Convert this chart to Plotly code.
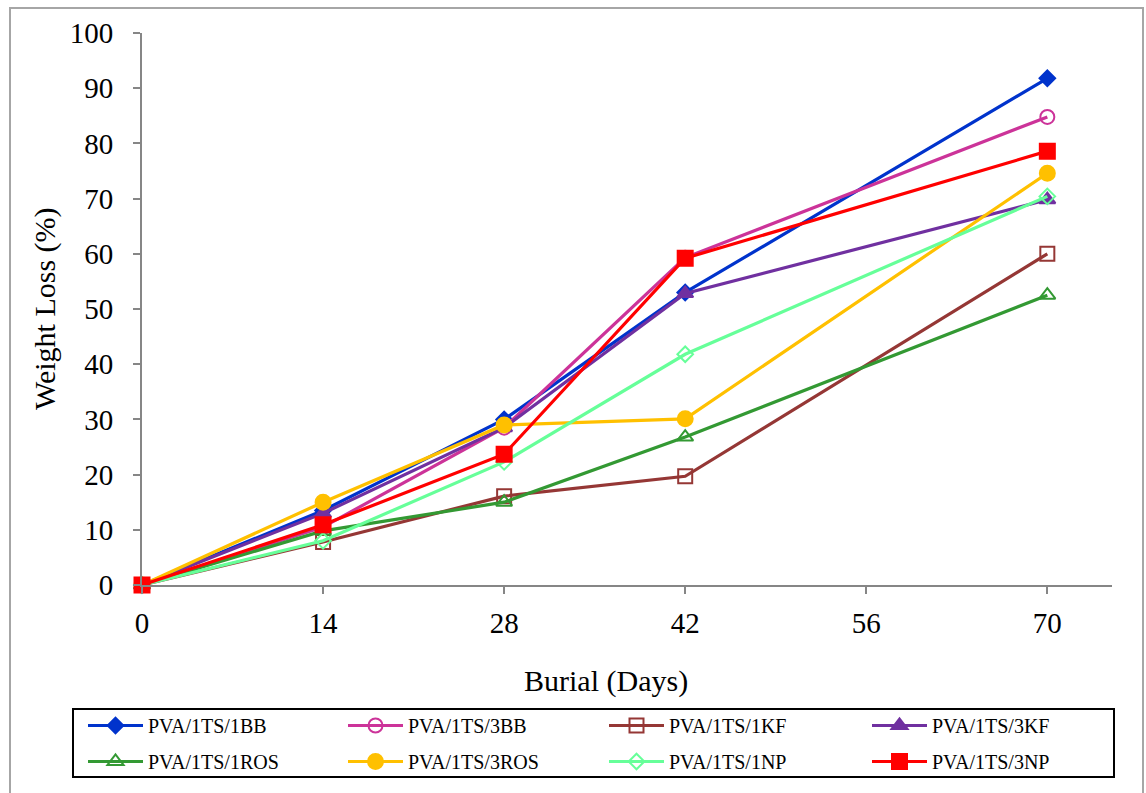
import plotly.graph_objects as go

days = [0, 14, 28, 42, 70]
series_names = ["PVA/1TS/1BB", "PVA/1TS/3BB", "PVA/1TS/1KF", "PVA/1TS/3KF",
                "PVA/1TS/1ROS", "PVA/1TS/3ROS", "PVA/1TS/1NP", "PVA/1TS/3NP"]
bb1 = [0, 13.5, 30.0, 53.0, 91.8]
bb3 = [0, 10.5, 28.5, 59.3, 84.8]
kf1 = [0, 7.8, 16.1, 19.7, 60.0]
kf3 = [0, 13.0, 28.5, 52.8, 69.8]
ros1 = [0, 9.8, 15.0, 26.8, 52.5]
ros3 = [0, 15.0, 29.0, 30.1, 74.6]
np1 = [0, 8.0, 22.3, 41.8, 70.4]
np3 = [0, 10.9, 23.7, 59.2, 78.6]
values = [bb1, bb3, kf1, kf3, ros1, ros3, np1, np3]
x_ticks = [0, 14, 28, 42, 56, 70]
y_ticks = list(range(0, 101, 10))
x_title = "Burial (Days)"
y_title = "Weight Loss (%)"

colors = ["#0033CC", "#CC3399", "#953735", "#7030A0",
          "#339933", "#FFC000", "#66FF99", "#FF0000"]
symbols = ["diamond", "circle-open", "square-open", "triangle-up",
           "triangle-up-open", "circle", "diamond-open", "square"]
sizes = [12, 14, 14, 14, 14, 15, 12, 15]

FONT = "Liberation Serif"
W, H = 1146, 793
L, R, T, B = 142, 1112, 33, 585
pw, ph = R - L, B - T

def px(xp):
    return (xp - L) / pw

def py(yp):
    return (B - yp) / ph

legend_ids = ["legend", "legend2", "legend3", "legend4"]
legend_text_x = [148, 408, 669, 932]

fig = go.Figure()
for i, (name, vals, c, s, sz) in enumerate(zip(series_names, values, colors, symbols, sizes)):
    fig.add_trace(go.Scatter(
        x=days, y=vals, name=name, mode="lines+markers",
        line=dict(color=c, width=3.2),
        marker=dict(symbol=s, size=sz, color=c, line=dict(color=c, width=2)),
        cliponaxis=False, legend=legend_ids[i % 4], legendgroup=name,
    ))

legend_common = dict(orientation="v", xanchor="left", yanchor="top",
                     xref="container", yref="container",
                     borderwidth=0, bgcolor="rgba(0,0,0,0)",
                     font=dict(size=20, family=FONT, color="black"),
                     itemwidth=55, tracegroupgap=7, traceorder="grouped")

layout_legends = {}
for lid, tx in zip(legend_ids, legend_text_x):
    layout_legends[lid] = dict(legend_common, x=(tx - 65) / W, y=(H - 706) / H)

fig.update_layout(
    width=W, height=H,
    margin=dict(l=L, r=W - R, t=T, b=H - B, pad=0, autoexpand=False),
    paper_bgcolor="white", plot_bgcolor="white",
    font=dict(family=FONT, color="black", size=29),
    xaxis=dict(range=[0, 75], tickvals=x_ticks, ticks="outside", ticklen=7, tickwidth=2,
               tickcolor="#868686", showline=True, linecolor="#868686", linewidth=2,
               showgrid=False, zeroline=False, ticklabelstandoff=4, automargin=False),
    yaxis=dict(range=[0, 100], tickvals=y_ticks, ticks="outside", ticklen=7, tickwidth=2,
               tickcolor="#868686", showline=True, linecolor="#868686", linewidth=2,
               showgrid=False, zeroline=False, ticklabelstandoff=14, automargin=False),
    showlegend=True,
    annotations=[
        dict(text=x_title, xref="paper", yref="paper", x=px(606), y=py(681),
             xanchor="center", yanchor="middle", showarrow=False, font=dict(size=30)),
        dict(text=y_title, xref="paper", yref="paper", x=px(45), y=py(309),
             xanchor="center", yanchor="middle", showarrow=False, textangle=-90,
             font=dict(size=30)),
    ],
    shapes=[
        dict(type="rect", xref="paper", yref="paper",
             x0=px(10), x1=px(1143), y0=py(820), y1=py(8),
             line=dict(color="#A6A6A6", width=2), fillcolor="rgba(0,0,0,0)", layer="below"),
        dict(type="rect", xref="paper", yref="paper",
             x0=px(73), x1=px(1114), y0=py(777), y1=py(709),
             line=dict(color="black", width=2), fillcolor="rgba(0,0,0,0)", layer="below"),
    ],
    **layout_legends,
)

fig.write_html("out.html")
